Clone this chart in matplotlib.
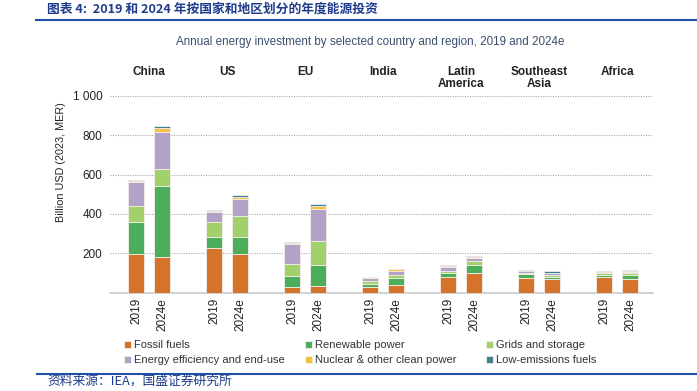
import matplotlib
matplotlib.use("Agg")
import matplotlib.pyplot as plt
import numpy as np

regions = ["China", "US", "EU", "India", "Latin\nAmerica", "Southeast\nAsia", "Africa"]
years = ["2019", "2024e"]
series = ["Fossil fuels", "Renewable power", "Grids and storage",
          "Energy efficiency and end-use", "Nuclear & other clean power", "Low-emissions fuels"]
colors = ["#D5732B", "#4CAE5B", "#A2D06A", "#B2A2C7", "#F5C043", "#3E7F99"]

# order per bar: China19, China24, US19, US24, EU19, EU24, India19, India24,
# LatAm19, LatAm24, SEA19, SEA24, Africa19, Africa24
fossil     = [197, 183, 227, 197, 29, 35, 28, 36, 77, 99, 76, 68, 80, 68]
renewable  = [163, 361, 56, 83, 54, 107, 14, 37, 23, 41, 17, 13, 10, 20]
grids      = [82, 85, 75, 111, 61, 120, 15, 17, 10, 18, 8, 10, 7, 9]
efficiency = [119, 190, 50, 85, 102, 165, 17, 19, 20, 18, 7, 9, 8, 8]
nuclear    = [7, 17, 7, 12, 7, 13, 3, 9, 4, 4, 1, 1, 1, 4]
lowem      = [2, 10, 5, 10, 5, 8, 1, 2, 5, 7, 6, 6, 2, 3]
data = [fossil, renewable, grids, efficiency, nuclear, lowem]

yticks = [200, 400, 600, 800, 1000]
yticklabels = ["200", "400", "600", "800", "1 000"]

plt.rcParams['font.family'] = ['Liberation Sans', 'DejaVu Sans']

W, H = 697, 391
fig = plt.figure(figsize=(W/100, H/100), dpi=100)
ax = fig.add_axes([110/W, 1-292.5/H, (653-110)/W, (292.5-96)/H])

pos = []
for g in range(len(regions)):
    pos += [g*3, g*3+1]
pos = np.array(pos)

bottom = np.zeros(len(pos))
handles = []
for vals, c, name in zip(data, colors, series):
    v = np.array(vals, dtype=float)
    b = ax.bar(pos, v, width=0.62, bottom=bottom, color=c, label=name,
               edgecolor="#F3EFEA", linewidth=0.6, zorder=3)
    handles.append(b)
    bottom += v

ax.set_xlim(-1.0, 19.88)
ax.set_ylim(0, 1000)
ax.set_yticks(yticks)
ax.set_yticklabels(yticklabels, fontsize=8.5, color="#222222")
ax.yaxis.grid(True, linestyle=(0, (1, 1.2)), color="#AAAAAA", linewidth=0.8, zorder=0)
ax.set_xticks(pos)
ax.set_xticklabels(years * len(regions), rotation=90, fontsize=8.5, color="#222222")
ax.tick_params(axis='both', length=0)
ax.tick_params(axis='x', pad=4)
ax.tick_params(axis='y', pad=5.5)
for s in ["top", "right", "left"]:
    ax.spines[s].set_visible(False)
ax.spines["bottom"].set_color("#C8C8C8")
ax.spines["bottom"].set_linewidth(1.2)
ax.set_ylabel("Billion USD (2023, MER)", fontsize=7.8, color="#222222")
ax.yaxis.set_label_coords((66-110)/543, (292.5-162)/196.5)

for g, r in enumerate(regions):
    ax.text(g*3+0.5, 1.094 if "\n" in r else 1.122, r, transform=ax.get_xaxis_transform(),
            ha="center", va="center", fontsize=8.5, fontweight="bold", color="#222222",
            linespacing=1.0)

fig.text(370/W, 1-42/H, "Annual energy investment by selected country and region, 2019 and 2024e",
         ha="center", va="center", fontsize=8.4, color="#3A4E6E")

# legend: three columns placed individually
col_x = [124, 305, 486]
for ci, x in enumerate(col_x):
    idx = [ci, ci+3]
    leg = fig.legend([handles[i] for i in idx], [series[i] for i in idx], ncol=1,
                     loc="upper left", bbox_to_anchor=(x/W, 1-340/H), frameon=False,
                     fontsize=8, handlelength=0.6, handleheight=0.6, handletextpad=0.3,
                     labelspacing=0.45, borderaxespad=0, borderpad=0)
    for t in leg.get_texts():
        t.set_color("#333333")

cjk = ['Noto Sans CJK SC', 'DejaVu Sans']
fig.text(47/W, 1-9/H, "图表 4:  2019 和 2024 年按国家和地区划分的年度能源投资",
         family=cjk, fontsize=9.2, color="#1F3C8C", ha="left", va="center", style="italic",
         fontweight="bold")
fig.add_artist(plt.Line2D([36/W, 1.0], [1-20/H, 1-20/H], color="#2050A8", linewidth=1.5))
fig.add_artist(plt.Line2D([37/W, 1.0], [1-374/H, 1-374/H], color="#2050A8", linewidth=1.5))
fig.text(47/W, 1-381/H, "资料来源：IEA，国盛证券研究所", family=cjk, fontsize=9.2,
         color="#1F3C8C", ha="left", va="center", style="italic")

fig.savefig("out.png", dpi=100)
